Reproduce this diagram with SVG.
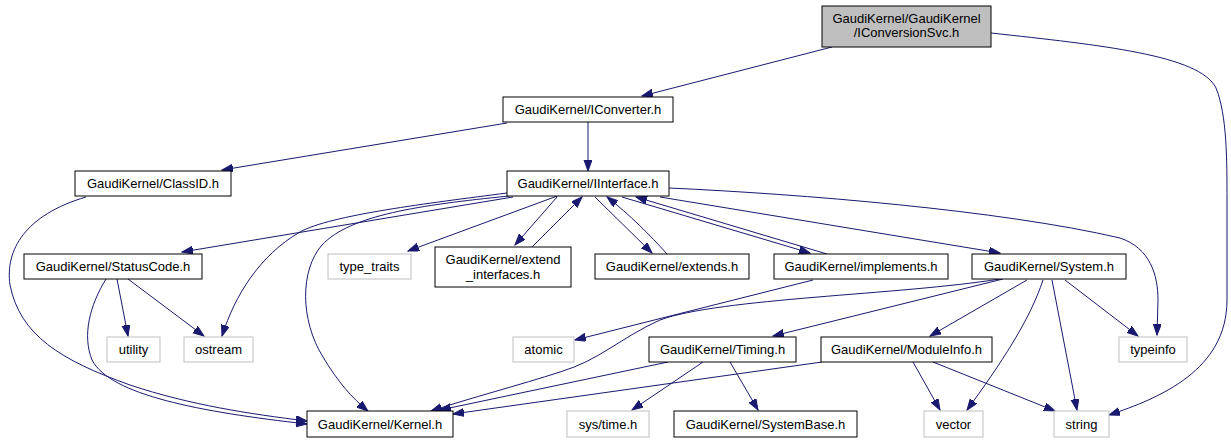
<svg xmlns="http://www.w3.org/2000/svg" width="1231" height="443" viewBox="0 0 1231 443">
<style>
.n rect{fill:#fff;stroke:#000;stroke-width:1}
.g rect{fill:#fff;stroke:#bfbfbf;stroke-width:1}
.root rect{fill:#bfbfbf;stroke:#000;stroke-width:1}
text{font-family:"Liberation Sans",Arial,sans-serif;font-size:13px;fill:#000;text-anchor:middle}
#edges path{fill:none;stroke:#191970;stroke-width:1;marker-end:url(#ah)}
</style>
<defs>
<marker id="ah" markerUnits="userSpaceOnUse" markerWidth="12" markerHeight="10" refX="11" refY="4" orient="auto" viewBox="0 0 12 10">
<path d="M0,0 L11,4 L0,8 z" fill="#191970" stroke="#191970" stroke-width="1"/>
</marker>
</defs>
<rect width="1231" height="443" fill="#fff"/>
<g id="edges">
<path d="M832,47 L642,96"/>
<path d="M991,33 C1100,45 1200,55 1216,88 C1227,115 1227,160 1227,200 L1227,300 C1227,370 1160,398 1109,415"/>
<path d="M507,123 L222,170"/>
<path d="M588,122 L588,171"/>
<path d="M86,197 C25,215 5,250 10,285 C20,335 60,360 130,385 C190,405 250,414 307,421"/>
<path d="M513,197 L182,252"/>
<path d="M507,193 C430,203 330,215 300,232 C260,255 235,295 222,336"/>
<path d="M509,196 C420,205 350,215 322,245 C300,270 300,320 323,357 C338,382 352,398 368,411"/>
<path d="M560,195 L408,251"/>
<path d="M557,197 L515,245"/>
<path d="M532,247 L582,197"/>
<path d="M595,197 L652,253"/>
<path d="M667,254 C650,235 630,215 607,197"/>
<path d="M622,197 L810,253"/>
<path d="M827,254 L636,197"/>
<path d="M660,197 L1000,253"/>
<path d="M669,188 C800,194 1000,210 1120,238 C1150,248 1158,275 1158,300 L1157,335"/>
<path d="M117,279 L128,336"/>
<path d="M128,279 L204,336"/>
<path d="M106,279 C90,305 82,335 92,360 C110,395 200,412 307,424"/>
<path d="M813,280 L575,340"/>
<path d="M1000,279 C900,295 720,298 660,320 C620,338 600,360 560,372 C520,385 470,398 431,411"/>
<path d="M1003,279 L773,336"/>
<path d="M1027,280 L930,336"/>
<path d="M1043,280 C1030,320 1000,365 967,410"/>
<path d="M1052,280 L1077,410"/>
<path d="M1065,280 L1138,336"/>
<path d="M668,362 L440,410"/>
<path d="M703,362 L632,410"/>
<path d="M730,362 L758,410"/>
<path d="M822,362 L453,414"/>
<path d="M913,362 L940,410"/>
<path d="M933,362 L1055,411"/>
</g>
<g id="IConversionSvc" class="root"><rect x="822" y="6" width="169" height="41"/><text x="906.5" y="23">GaudiKernel/GaudiKernel</text><text x="906.5" y="37">/IConversionSvc.h</text></g>
<g id="IConverter" class="n"><rect x="503" y="97" width="170" height="25"/><text x="588" y="114">GaudiKernel/IConverter.h</text></g>
<g id="ClassID" class="n"><rect x="75" y="171" width="156" height="25"/><text x="153" y="188">GaudiKernel/ClassID.h</text></g>
<g id="IInterface" class="n"><rect x="507" y="171" width="162" height="25"/><text x="588" y="188">GaudiKernel/IInterface.h</text></g>
<g id="StatusCode" class="n"><rect x="24" y="254" width="178" height="25"/><text x="113" y="271">GaudiKernel/StatusCode.h</text></g>
<g id="type_traits" class="g"><rect x="328" y="254" width="83" height="25"/><text x="369.5" y="271">type_traits</text></g>
<g id="extend_interfaces" class="n"><rect x="435" y="247" width="136" height="40"/><text x="503" y="264">GaudiKernel/extend</text><text x="503" y="279">_interfaces.h</text></g>
<g id="extends" class="n"><rect x="595" y="254" width="154" height="25"/><text x="672" y="271">GaudiKernel/extends.h</text></g>
<g id="implements" class="n"><rect x="774" y="254" width="174" height="25"/><text x="861" y="271">GaudiKernel/implements.h</text></g>
<g id="System" class="n"><rect x="972" y="254" width="154" height="25"/><text x="1049" y="271">GaudiKernel/System.h</text></g>
<g id="utility" class="g"><rect x="107" y="337" width="53" height="25"/><text x="133.5" y="354">utility</text></g>
<g id="ostream" class="g"><rect x="184" y="337" width="69" height="25"/><text x="218.5" y="354">ostream</text></g>
<g id="atomic" class="g"><rect x="513" y="337" width="61" height="25"/><text x="543.5" y="354">atomic</text></g>
<g id="Timing" class="n"><rect x="649" y="337" width="147" height="25"/><text x="722.5" y="354">GaudiKernel/Timing.h</text></g>
<g id="ModuleInfo" class="n"><rect x="821" y="337" width="171" height="25"/><text x="906.5" y="354">GaudiKernel/ModuleInfo.h</text></g>
<g id="typeinfo" class="g"><rect x="1119" y="337" width="68" height="25"/><text x="1153" y="354">typeinfo</text></g>
<g id="Kernel" class="n"><rect x="307" y="411" width="146" height="26"/><text x="380" y="429">GaudiKernel/Kernel.h</text></g>
<g id="systime" class="g"><rect x="567" y="411" width="82" height="26"/><text x="608" y="429">sys/time.h</text></g>
<g id="SystemBase" class="n"><rect x="674" y="411" width="183" height="26"/><text x="765.5" y="429">GaudiKernel/SystemBase.h</text></g>
<g id="vector" class="g"><rect x="924" y="411" width="59" height="26"/><text x="953.5" y="429">vector</text></g>
<g id="string" class="g"><rect x="1054" y="411" width="55" height="26"/><text x="1081.5" y="429">string</text></g>
</svg>
